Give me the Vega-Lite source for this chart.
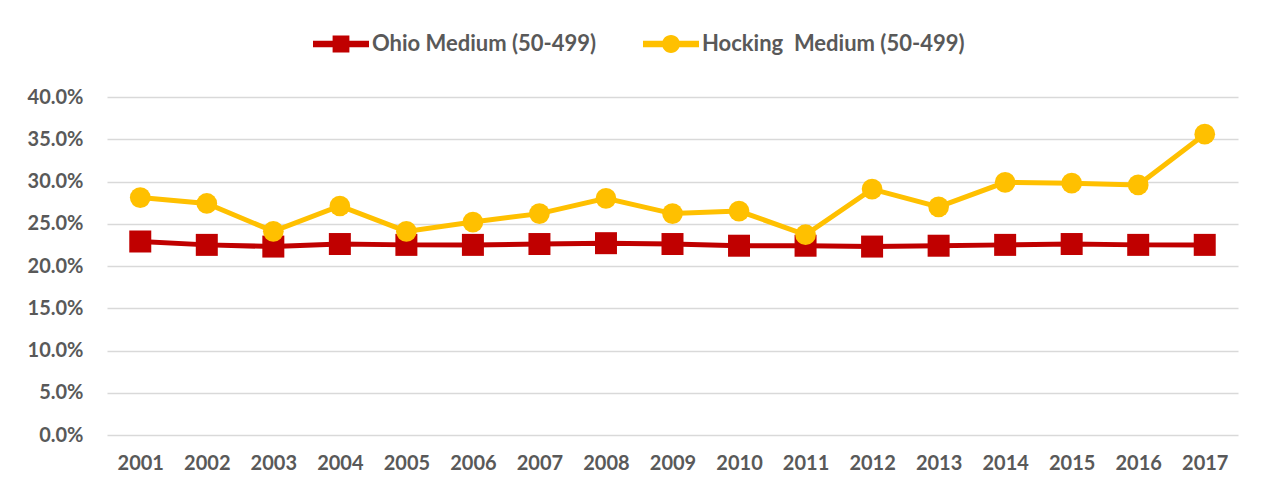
{
  "$schema": "https://vega.github.io/schema/vega-lite/v6.json",
  "width": 1131,
  "height": 338,
  "autosize": {"type": "none"},
  "padding": {"left": 107, "top": 97, "right": 28, "bottom": 56},
  "background": "white",
  "config": {
    "view": {"stroke": null},
    "font": "Lato",
    "axis": {"labelFont": "Lato", "labelFontWeight": "bold", "labelColor": "#595959", "labelFontSize": 20}
  },
  "data": {"values": [
    {"year": "2001", "series": "Ohio Medium (50-499)", "value": 0.229},
    {"year": "2002", "series": "Ohio Medium (50-499)", "value": 0.225},
    {"year": "2003", "series": "Ohio Medium (50-499)", "value": 0.223},
    {"year": "2004", "series": "Ohio Medium (50-499)", "value": 0.226},
    {"year": "2005", "series": "Ohio Medium (50-499)", "value": 0.225},
    {"year": "2006", "series": "Ohio Medium (50-499)", "value": 0.225},
    {"year": "2007", "series": "Ohio Medium (50-499)", "value": 0.226},
    {"year": "2008", "series": "Ohio Medium (50-499)", "value": 0.227},
    {"year": "2009", "series": "Ohio Medium (50-499)", "value": 0.226},
    {"year": "2010", "series": "Ohio Medium (50-499)", "value": 0.224},
    {"year": "2011", "series": "Ohio Medium (50-499)", "value": 0.224},
    {"year": "2012", "series": "Ohio Medium (50-499)", "value": 0.223},
    {"year": "2013", "series": "Ohio Medium (50-499)", "value": 0.224},
    {"year": "2014", "series": "Ohio Medium (50-499)", "value": 0.225},
    {"year": "2015", "series": "Ohio Medium (50-499)", "value": 0.226},
    {"year": "2016", "series": "Ohio Medium (50-499)", "value": 0.225},
    {"year": "2017", "series": "Ohio Medium (50-499)", "value": 0.225},
    {"year": "2001", "series": "Hocking  Medium (50-499)", "value": 0.281},
    {"year": "2002", "series": "Hocking  Medium (50-499)", "value": 0.274},
    {"year": "2003", "series": "Hocking  Medium (50-499)", "value": 0.241},
    {"year": "2004", "series": "Hocking  Medium (50-499)", "value": 0.271},
    {"year": "2005", "series": "Hocking  Medium (50-499)", "value": 0.241},
    {"year": "2006", "series": "Hocking  Medium (50-499)", "value": 0.252},
    {"year": "2007", "series": "Hocking  Medium (50-499)", "value": 0.262},
    {"year": "2008", "series": "Hocking  Medium (50-499)", "value": 0.280},
    {"year": "2009", "series": "Hocking  Medium (50-499)", "value": 0.262},
    {"year": "2010", "series": "Hocking  Medium (50-499)", "value": 0.265},
    {"year": "2011", "series": "Hocking  Medium (50-499)", "value": 0.237},
    {"year": "2012", "series": "Hocking  Medium (50-499)", "value": 0.291},
    {"year": "2013", "series": "Hocking  Medium (50-499)", "value": 0.270},
    {"year": "2014", "series": "Hocking  Medium (50-499)", "value": 0.299},
    {"year": "2015", "series": "Hocking  Medium (50-499)", "value": 0.298},
    {"year": "2016", "series": "Hocking  Medium (50-499)", "value": 0.296},
    {"year": "2017", "series": "Hocking  Medium (50-499)", "value": 0.356}
  ]},
  "encoding": {
    "x": {"field": "year", "type": "ordinal", "scale": {"type": "point", "padding": 0.5},
      "axis": {"title": null, "labelAngle": 0, "ticks": false, "domain": false, "labelPadding": 18, "grid": false}},
    "y": {"field": "value", "type": "quantitative", "scale": {"domain": [0, 0.4]},
      "axis": {"title": null, "format": ".1%", "values": [0, 0.05, 0.1, 0.15, 0.2, 0.25, 0.3, 0.35, 0.4], "ticks": false, "domain": false, "labelPadding": 24, "gridColor": "#D9D9D9", "gridWidth": 1.5}},
    "color": {"field": "series", "type": "nominal",
      "scale": {"domain": ["Ohio Medium (50-499)", "Hocking  Medium (50-499)"], "range": ["#C00000", "#FFC000"]},
      "legend": {"title": null, "orient": "none", "direction": "horizontal", "legendX": 206, "legendY": -81,
        "labelFont": "Lato", "labelFontWeight": "bold", "labelFontSize": 22, "labelColor": "#595959",
        "labelExpr": "replace(datum.label, '  ', '\u00a0 ')",
        "symbolSize": 3136, "symbolStrokeWidth": 0, "labelOffset": 3, "columnPadding": 46, "labelLimit": 400,
        "encode": {"symbols": {"update": {
          "shape": {"signal": "datum.value === 'Ohio Medium (50-499)' ? 'M-1,-0.12H1V0.12H-1Z M-0.3,-0.3H0.3V0.3H-0.3Z' : 'M-1,-0.12H1V0.12H-1Z M-0.32,0A0.32,0.32 0 1,1 0.32,0A0.32,0.32 0 1,1 -0.32,0Z'"},
          "strokeWidth": {"value": 0}
        }}}}
    }
  },
  "layer": [
    {"transform": [{"filter": "datum.series === 'Ohio Medium (50-499)'"}],
     "mark": {"type": "line", "strokeWidth": 5}},
    {"transform": [{"filter": "datum.series === 'Ohio Medium (50-499)'"}],
     "mark": {"type": "point", "shape": "square", "filled": true, "opacity": 1, "size": 484}},
    {"transform": [{"filter": "datum.series !== 'Ohio Medium (50-499)'"}],
     "mark": {"type": "line", "strokeWidth": 5}},
    {"transform": [{"filter": "datum.series !== 'Ohio Medium (50-499)'"}],
     "mark": {"type": "point", "shape": "circle", "filled": true, "opacity": 1, "size": 430}}
  ]
}
